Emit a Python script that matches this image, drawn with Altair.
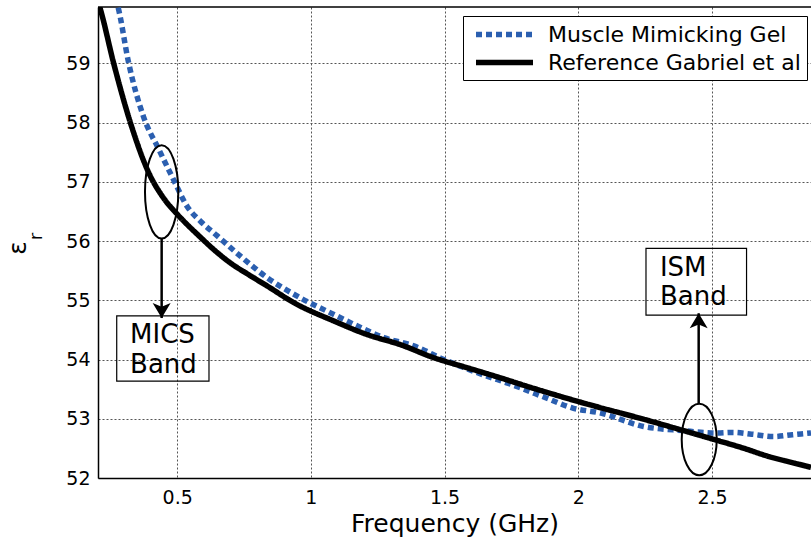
import altair as alt
import pandas as pd

# ---------------- data ----------------
gel_freq = [0.27, 0.281, 0.318, 0.374, 0.431, 0.486, 0.538, 0.588, 0.649, 0.743, 0.837, 0.961,
            1.086, 1.186, 1.273, 1.385, 1.497, 1.609, 1.785, 1.88, 1.979, 2.08, 2.244, 2.39,
            2.513, 2.577, 2.648, 2.73, 2.80, 2.87]
gel_eps = [60.1, 59.91, 59.02, 58.1, 57.55, 57.04, 56.58, 56.33, 56.09, 55.72, 55.38, 55.04,
           54.76, 54.54, 54.37, 54.23, 54.0, 53.80, 53.52, 53.35, 53.18, 53.10, 52.87, 52.80,
           52.76, 52.77, 52.74, 52.70, 52.73, 52.76]

ref_freq = [0.20, 0.213, 0.262, 0.325, 0.393, 0.45, 0.501, 0.588, 0.636, 0.699, 0.768, 0.837,
            0.936, 1.086, 1.211, 1.335, 1.46, 1.585, 1.709, 1.821, 2.0, 2.08, 2.246, 2.378,
            2.5, 2.62, 2.714, 2.80, 2.87]
ref_eps = [60.1, 59.91, 59.01, 58.0, 57.16, 56.72, 56.45, 56.06, 55.86, 55.63, 55.43, 55.24,
           54.96, 54.65, 54.42, 54.25, 54.03, 53.86, 53.69, 53.53, 53.29, 53.19, 52.99, 52.82,
           52.66, 52.5, 52.36, 52.26, 52.18]

series_names = ["Muscle Mimicking Gel", "Reference Gabriel et al"]
x_ticks = [0.5, 1, 1.5, 2, 2.5]
y_ticks = [52, 53, 54, 55, 56, 57, 58, 59]
x_domain = [0.204, 2.87]
y_domain = [52, 59.95]

# annotations (data coordinates)
band_names = ["MICS", "ISM"]
ellipse_f = [0.442, 2.452]
ellipse_v = [56.83, 52.65]
arrow_f = [0.442, 2.45]
arrow_from = [56.04, 53.255]
arrow_tip = [54.70, 54.78]
box_f0 = [0.274, 2.253]
box_f1 = [0.619, 2.629]
box_v0 = [54.738, 55.877]
box_v1 = [53.635, 54.75]
label_f = [0.324, 2.305]
label_line1_v = [54.41, 55.54]
label_line2_v = [53.905, 55.06]

# ---------------- tables ----------------
df = pd.DataFrame({
    "f": gel_freq + ref_freq,
    "v": gel_eps + ref_eps,
    "series": [series_names[0]] * len(gel_freq) + [series_names[1]] * len(ref_freq),
    "i": list(range(len(gel_freq))) + list(range(len(ref_freq))),
})

ann = pd.DataFrame({
    "band": band_names, "ef": ellipse_f, "ev": ellipse_v,
    "af": arrow_f, "a0": arrow_from, "a1": arrow_tip,
    "bx0": box_f0, "bx1": box_f1, "by0": box_v0, "by1": box_v1,
})
texts = pd.DataFrame({
    "f": label_f + label_f,
    "v": label_line1_v + label_line2_v,
    "t": band_names + ["Band", "Band"],
})
frame = pd.DataFrame({"x0": [x_domain[0]], "x1": [x_domain[1]], "y": [y_domain[1]]})

FONT = "DejaVu Sans"
xs = alt.Scale(domain=x_domain, nice=False, zero=False)
ys = alt.Scale(domain=y_domain, nice=False, zero=False)

color_scale = alt.Scale(domain=series_names, range=["#2b5fb0", "#000000"])
dash_scale = alt.Scale(domain=series_names, range=[[6, 4], [1, 0]])

legend = alt.Legend(
    title=None, orient="none", legendX=365, legendY=9,
    symbolType="M-3,0L3,0", symbolSize=361, symbolStrokeWidth=5.5,
    labelFont=FONT, labelFontSize=22, labelColor="black", labelLimit=500,
    strokeColor="black", fillColor="white", padding=6, symbolOffset=23,
    rowPadding=4, labelOffset=31,
)

x_axis = alt.Axis(values=x_ticks, format="~g", title="Frequency (GHz)", grid=True,
                  ticks=False, labelPadding=10, titlePadding=4)
y_axis = alt.Axis(values=y_ticks, format="d", title="ε", grid=True, ticks=False,
                  labelPadding=8, titleAngle=270, titleAlign="center",
                  titleBaseline="alphabetic", titleX=-73, titleY=240.5,
                  titleFontSize=25)

def line_layer(name):
    return alt.Chart(df).transform_filter(alt.datum.series == name).mark_line(
        clip=True, strokeWidth=5.5, strokeCap="butt", interpolate="monotone"
    ).encode(
        x=alt.X("f:Q", scale=xs, axis=x_axis),
        y=alt.Y("v:Q", scale=ys, axis=y_axis),
        color=alt.Color("series:N", scale=color_scale, legend=legend),
        strokeDash=alt.StrokeDash("series:N", scale=dash_scale, legend=legend),
        order="i:Q",
    )

gel_line = line_layer(series_names[0])
ref_line = line_layer(series_names[1])

top_border = alt.Chart(frame).mark_rule(color="black", strokeWidth=1.5).encode(
    x=alt.X("x0:Q", scale=xs), x2="x1:Q", y=alt.Y("y:Q", scale=ys)
)

def ellipse_path(a):
    k = 0.5523
    ka = round(k * a, 4)
    return (f"M0,-1C{ka},-1,{a},-{k},{a},0C{a},{k},{ka},1,0,1"
            f"C-{ka},1,-{a},{k},-{a},0C-{a},-{k},-{ka},-1,0,-1Z")

mics_ell = alt.Chart(ann).transform_filter(alt.datum.band == "MICS").mark_point(
    shape=ellipse_path(0.357), size=8724, filled=False, stroke="black",
    strokeWidth=2, opacity=1
).encode(x=alt.X("ef:Q", scale=xs), y=alt.Y("ev:Q", scale=ys))

ism_ell = alt.Chart(ann).transform_filter(alt.datum.band == "ISM").mark_point(
    shape=ellipse_path(0.489), size=5127, filled=False, stroke="black",
    strokeWidth=2, opacity=1
).encode(x=alt.X("ef:Q", scale=xs), y=alt.Y("ev:Q", scale=ys))

arrows = alt.Chart(ann).mark_rule(color="black", strokeWidth=2.5).encode(
    x=alt.X("af:Q", scale=xs), y=alt.Y("a0:Q", scale=ys), y2="a1:Q"
)

head_down = alt.Chart(ann).transform_filter(alt.datum.band == "MICS").mark_point(
    shape="M0,0L-0.6,-1L0,-0.75L0.6,-1Z", size=900, filled=True, fill="black",
    opacity=1
).encode(x=alt.X("af:Q", scale=xs), y=alt.Y("a1:Q", scale=ys))

head_up = alt.Chart(ann).transform_filter(alt.datum.band == "ISM").mark_point(
    shape="M0,0L-0.6,1L0,0.75L0.6,1Z", size=900, filled=True, fill="black",
    opacity=1
).encode(x=alt.X("af:Q", scale=xs), y=alt.Y("a1:Q", scale=ys))

boxes = alt.Chart(ann).mark_rect(fill=None, stroke="black", strokeWidth=1.2).encode(
    x=alt.X("bx0:Q", scale=xs), x2="bx1:Q", y=alt.Y("by0:Q", scale=ys), y2="by1:Q"
)

band_text = alt.Chart(texts).mark_text(
    align="left", baseline="middle", font=FONT, fontSize=26, color="black"
).encode(x=alt.X("f:Q", scale=xs), y=alt.Y("v:Q", scale=ys), text="t:N")

sub_r = alt.Chart(frame).mark_text(
    text="r", angle=270, align="center", baseline="middle", font=FONT,
    fontSize=18, color="black"
).encode(x=alt.value(-61), y=alt.value(229.5))

chart = alt.layer(
    top_border, gel_line, ref_line, mics_ell, ism_ell, arrows, head_down, head_up,
    boxes, band_text, sub_r
).resolve_scale(
    color="shared", strokeDash="shared"
).properties(
    width=713, height=471, background="white",
    autosize=alt.AutoSizeParams(type="none"),
    padding={"left": 98, "top": 7, "right": 0, "bottom": 63},
).configure_view(stroke=None).configure_axis(
    labelFont=FONT, labelFontSize=19, labelColor="black",
    titleFont=FONT, titleFontSize=25, titleFontWeight="normal", titleColor="black",
    domainColor="black", domainWidth=1.5,
    gridColor="#555555", gridDash=[2, 2], gridWidth=1, gridOpacity=1,
)

chart.save("out.html", embed_options={"renderer": "svg", "actions": False})
